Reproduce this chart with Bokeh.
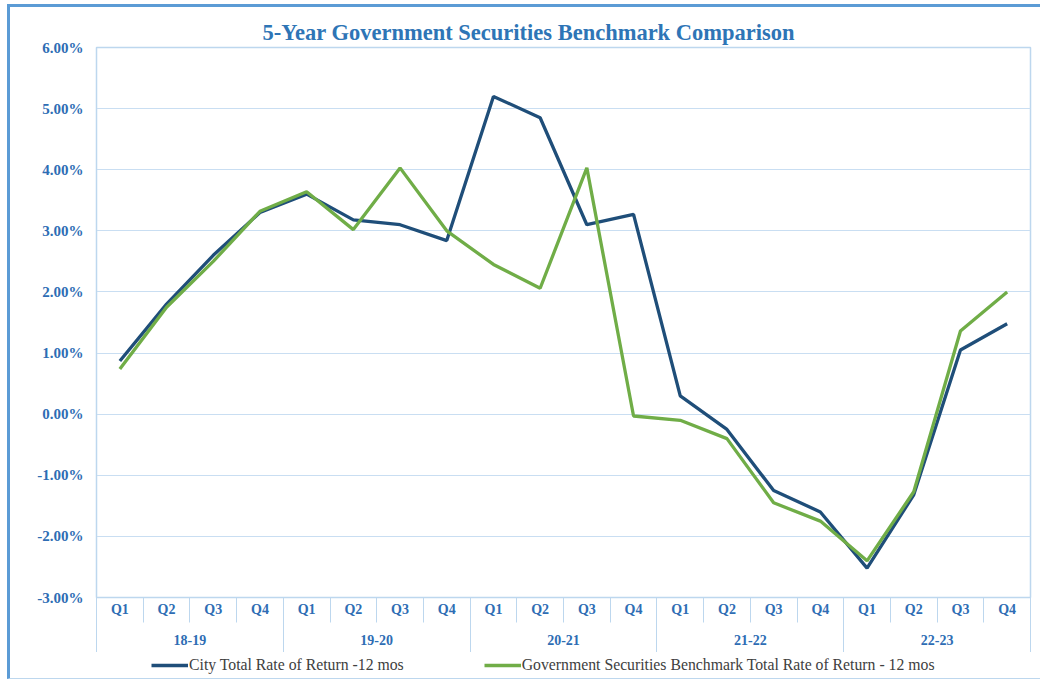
from bokeh.plotting import figure
from bokeh.layouts import column
from bokeh.models import (Range1d, LinearAxis, FixedTicker, PrintfTickFormatter,
                          Legend, LegendItem, Title, Grid)
from bokeh.embed import file_html
from bokeh.resources import INLINE

# ---- data ----
years = ["18-19", "19-20", "20-21", "21-22", "22-23"]
quarters = ["Q1", "Q2", "Q3", "Q4"]
city = [0.87, 1.80, 2.60, 3.30, 3.60, 3.18, 3.10, 2.84,
        5.20, 4.85, 3.10, 3.27, 0.30, -0.25, -1.25, -1.60,
        -2.52, -1.32, 1.05, 1.48]
bench = [0.74, 1.75, 2.50, 3.32, 3.64, 3.02, 4.03, 3.00,
         2.45, 2.06, 4.03, -0.03, -0.10, -0.40, -1.45, -1.75,
         -2.40, -1.27, 1.36, 2.00]
y_ticks = [-3, -2, -1, 0, 1, 2, 3, 4, 5, 6]
city_label = "City Total Rate of Return -12 mos"
bench_label = "Government Securities Benchmark Total Rate of Return - 12 mos"
title_text = "5-Year Government Securities Benchmark Comparison"

n = len(years) * len(quarters)
xs = [i + 0.5 for i in range(n)]
q_labels = [quarters[i % 4] for i in range(n)]

BLUE_TXT = "#2E6DB4"
LIGHT = "#BDD7EE"
FONT = "Liberation Serif"
CITY_C = "#1F4E79"
BENCH_C = "#70AD47"

W = 1030
p = figure(width=W, height=645, output_backend="svg", toolbar_location=None,
           x_axis_type=None, y_axis_type=None,
           x_range=Range1d(0, n), y_range=Range1d(-3, 6),
           min_border_left=86, min_border_right=10, min_border_top=40, min_border_bottom=55)

p.outline_line_color = LIGHT
p.outline_line_width = 1.5
p.background_fill_color = "white"
p.border_fill_color = "white"

# title
t = Title(text=title_text, text_font=FONT, text_font_size="22.5px", text_font_style="bold",
          text_color="#2E75B6", align="left", offset=166, standoff=6)
p.add_layout(t, "above")

# y axis
yax = LinearAxis(ticker=FixedTicker(ticks=y_ticks),
                 formatter=PrintfTickFormatter(format="%.2f%%"))
yax.axis_line_color = LIGHT
yax.major_tick_line_color = None
yax.minor_tick_line_color = None
yax.major_tick_out = 0
yax.major_tick_in = 0
yax.major_label_standoff = 13
yax.major_label_text_font = FONT
yax.major_label_text_font_style = "bold"
yax.major_label_text_font_size = "15px"
yax.major_label_text_color = BLUE_TXT
p.add_layout(yax, "left")

p.add_layout(Grid(dimension=1, ticker=yax.ticker, grid_line_color="#C9DEF2", grid_line_width=1))

# x axis level 1: quarters (minor ticks = quarter separators)
qax = LinearAxis(ticker=FixedTicker(ticks=xs, minor_ticks=list(range(n + 1))),
                 major_label_overrides={x: q for x, q in zip(xs, q_labels)})
qax.axis_line_color = LIGHT
qax.major_tick_line_color = None
qax.major_tick_out = 0
qax.major_tick_in = 0
qax.minor_tick_line_color = LIGHT
qax.minor_tick_out = 25
qax.minor_tick_in = 0
qax.major_label_standoff = -21
qax.major_label_text_font = FONT
qax.major_label_text_font_style = "bold"
qax.major_label_text_font_size = "14px"
qax.major_label_text_color = BLUE_TXT
p.add_layout(qax, "below")

# x axis level 2: years (minor ticks = year separators)
ycent = [4 * i + 2 for i in range(len(years))]
yrax = LinearAxis(ticker=FixedTicker(ticks=ycent, minor_ticks=list(range(0, n + 1, 4))),
                  major_label_overrides={x: y for x, y in zip(ycent, years)})
yrax.axis_line_color = None
yrax.major_tick_line_color = None
yrax.major_tick_out = 0
yrax.major_tick_in = 0
yrax.minor_tick_line_color = LIGHT
yrax.minor_tick_in = 20
yrax.minor_tick_out = 40
yrax.major_label_standoff = -25
yrax.major_label_text_font = FONT
yrax.major_label_text_font_style = "bold"
yrax.major_label_text_font_size = "14px"
yrax.major_label_text_color = BLUE_TXT
p.add_layout(yrax, "below")

r1 = p.line(xs, city, line_color=CITY_C, line_width=3.3)
r2 = p.line(xs, bench, line_color=BENCH_C, line_width=3.3)

# legend strip below the chart
p2 = figure(width=W, height=26, output_backend="svg", toolbar_location=None,
            x_axis_type=None, y_axis_type=None,
            x_range=Range1d(1000, 1001), y_range=Range1d(-3, 6),
            min_border_left=0, min_border_right=0, min_border_top=0, min_border_bottom=0)
p2.outline_line_color = None
p2.grid.visible = False
l1 = p2.line(xs, city, line_color=CITY_C, line_width=3.5)
l2 = p2.line(xs, bench, line_color=BENCH_C, line_width=3.5)
legend = Legend(items=[LegendItem(label=city_label, renderers=[l1]),
                       LegendItem(label=bench_label, renderers=[l2])],
                orientation="horizontal", location="left",
                label_text_font=FONT, label_text_font_size="15.75px",
                label_text_color="#404040", glyph_width=37, glyph_height=14,
                spacing=80, padding=2, margin=55, label_standoff=1,
                border_line_color=None, background_fill_alpha=0)
p2.add_layout(legend, "center")

lay = column(p, p2, spacing=0)
lay.styles = {"border-left": "3px solid #5B9BD5", "border-top": "3px solid #5B9BD5",
              "border-bottom": "1px solid #BDD7EE", "margin-left": "7px", "margin-top": "4px"}

open("out.html", "w").write(file_html(lay, INLINE))
